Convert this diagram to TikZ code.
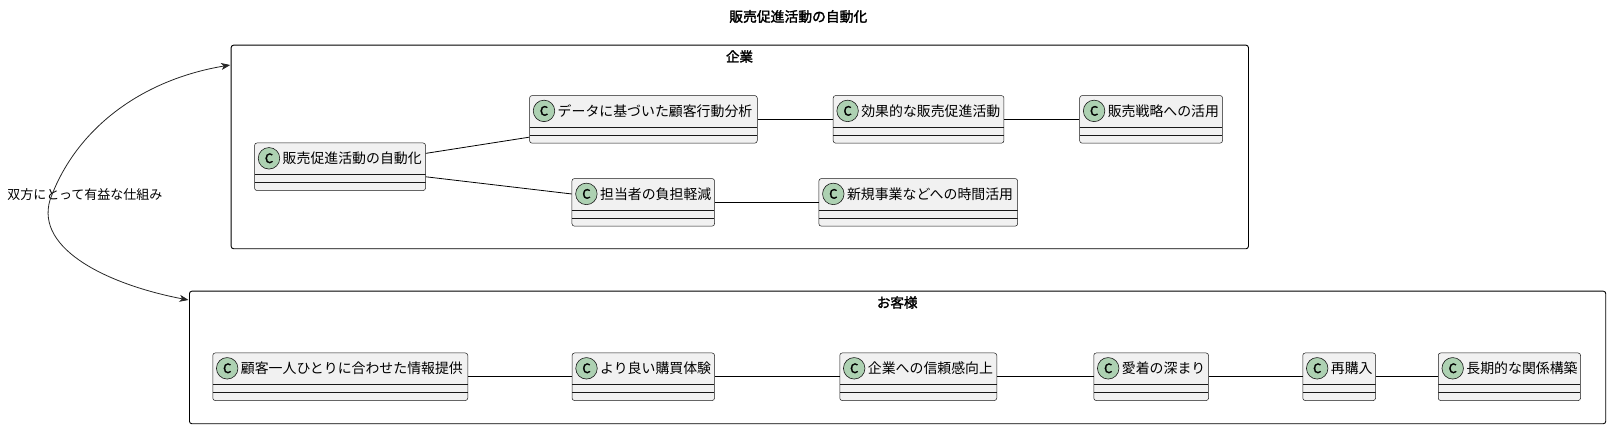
\documentclass[tikz,border=0pt]{standalone}
\usepackage{fontspec}
\newfontfamily\jp[AutoFakeBold=2]{Noto Sans CJK JP}
\usetikzlibrary{arrows.meta}
\definecolor{spotgreen}{HTML}{ADD1B2}
\definecolor{boxfill}{HTML}{F1F1F1}
\definecolor{boxline}{HTML}{181818}
\tikzset{
  clsbox/.style={draw=boxline, fill=boxfill, line width=0.5pt, rounded corners=2.5pt,
    minimum height=47.6pt, inner sep=0pt, rectangle,
    path picture={
      \draw[boxline, line width=0.5pt]
        ([yshift=-31.6pt]path picture bounding box.north west) -- ([yshift=-31.6pt]path picture bounding box.north east)
        ([yshift=-39.6pt]path picture bounding box.north west) -- ([yshift=-39.6pt]path picture bounding box.north east);
    }},
  spot/.style={circle, draw=boxline, fill=spotgreen, line width=0.6pt, minimum size=21.5pt, inner sep=0pt,
    font=\jp\fontsize{13}{13}\selectfont\bfseries},
  clstext/.style={inner sep=0pt, font=\jp\fontsize{13.9}{16}\selectfont},
  frame/.style={draw=black, line width=0.9pt, rounded corners=2.5pt, inner sep=0pt, rectangle},
  pkglabel/.style={inner sep=0pt, font=\jp\fontsize{13.5}{16}\selectfont\bfseries},
  edge/.style={draw=black, line width=0.8pt},
  biarrow/.style={draw=black!85, line width=0.8pt, {Stealth[length=9pt,width=7pt,inset=2.5pt]}-{Stealth[length=9pt,width=7pt,inset=2.5pt]}},
  elabel/.style={inner sep=0pt, font=\jp\fontsize{13}{15}\selectfont}
}
\newcommand{\umlclass}[5]{%
  \node[clsbox, minimum width={#4-#2}, anchor=north west] (#1) at (#2,#3) {};
  \node[spot] (#1-spot) at ([shift={(14.7,15.6)}]#1.north west) {C};
  \node[clstext, anchor=west] (#1-text) at ([shift={(28.2,15.6)}]#1.north west) {#5};
}
\begin{document}
\begin{tikzpicture}[x=1pt, y=-1pt]
\useasboundingbox (0,0) rectangle (1610,429);
% title
\node[inner sep=0pt, font=\jp\fontsize{13.8}{16}\selectfont\bfseries] (title) at (798.3,16.5) {販売促進活動の自動化};
% frames
\node[frame, minimum width=1017.3pt, minimum height=203.6pt, anchor=north west] (kigyo) at (230.7,44.7) {};
\node[pkglabel] (kigyo-label) at (739.5,56.5) {企業};
\node[frame, minimum width=1416.3pt, minimum height=132.6pt, anchor=north west] (kyaku) at (189,290.7) {};
\node[pkglabel] (kyaku-label) at (897.2,302.5) {お客様};
% top classes
\umlclass{A}{254.3}{142.7}{425.3}{販売促進活動の自動化}
\umlclass{B}{529.3}{95.3}{757}{データに基づいた顧客行動分析}
\umlclass{C}{832.9}{95.3}{1003.7}{効果的な販売促進活動}
\umlclass{D}{1079.4}{95.3}{1222.3}{販売戦略への活用}
\umlclass{E}{571.7}{178.3}{714.3}{担当者の負担軽減}
\umlclass{F}{818.6}{178.3}{1017.4}{新規事業などへの時間活用}
% bottom classes
\umlclass{G}{212.5}{352.7}{467.5}{顧客一人ひとりに合わせた情報提供}
\umlclass{H}{571.8}{352.7}{714.3}{より良い購買体験}
\umlclass{I}{839.5}{352.7}{996.5}{企業への信頼感向上}
\umlclass{J}{1093.5}{352.7}{1208.3}{愛着の深まり}
\umlclass{K}{1302.5}{352.7}{1375.3}{再購入}
\umlclass{L}{1438}{352.7}{1580.3}{長期的な関係構築}
% edges
\draw[edge] (A) -- (B);
\draw[edge] (A) -- (E);
\draw[edge] (B) -- (C);
\draw[edge] (C) -- (D);
\draw[edge] (E) -- (F);
\draw[edge] (G) -- (H);
\draw[edge] (H) -- (I);
\draw[edge] (I) -- (J);
\draw[edge] (J) -- (K);
\draw[edge] (K) -- (L);
% curved bidirectional arrow
\coordinate (kigyo-in) at (230.2,65);
\coordinate (kyaku-in) at (188.5,300);
\node[elabel, anchor=west] (arrlabel) at (7.3,195) {双方にとって有益な仕組み};
\draw[biarrow] (kyaku-in) .. controls (110,285) and (35,250) .. (50,200)
  .. controls (75,130) and (140,80) .. (kigyo-in);
\end{tikzpicture}
\end{document}
